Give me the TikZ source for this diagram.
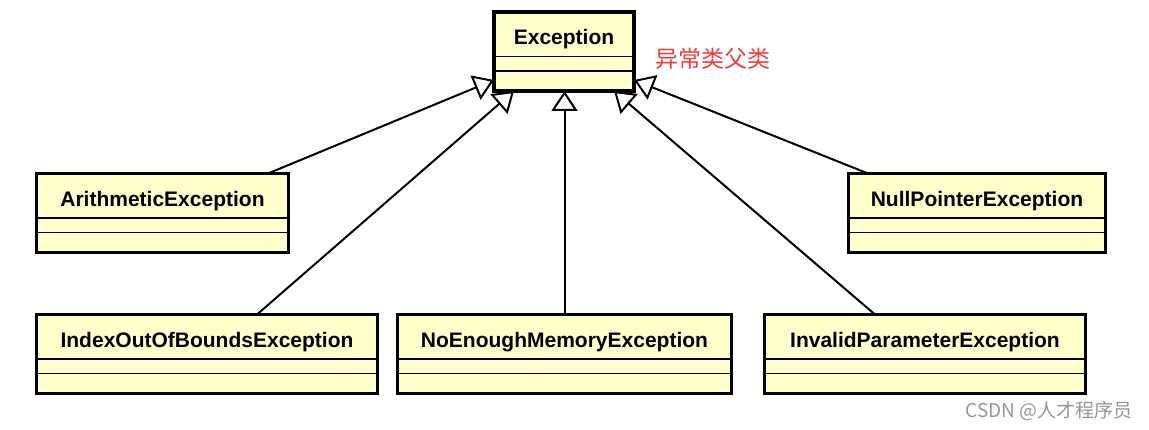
\documentclass[tikz,border=0pt]{standalone}
\usepackage{fontspec}
\usetikzlibrary{arrows.meta}
\newfontfamily\umlfont{Liberation Sans}
\newfontfamily\cjkfont{Noto Sans CJK SC}
\definecolor{classfill}{RGB}{255,255,204}
\definecolor{notered}{RGB}{242,58,58}
\definecolor{markgray}{RGB}{150,150,150}
\tikzstyle{classbox}=[draw=black, fill=classfill, line width=3.5pt, inner sep=0pt, outer sep=0pt, minimum height=79pt, anchor=north west]
\tikzstyle{classname}=[font=\umlfont\bfseries\fontsize{21}{25}\selectfont, inner sep=0pt, anchor=base]
\tikzstyle{divider}=[line width=1.8pt]
\tikzstyle{inherit}=[line width=2pt, -{Triangle[open, length=20pt, width=26pt]}]
\tikzstyle{note}=[font=\cjkfont\fontsize{23}{27}\selectfont, text=notered, inner sep=0pt, anchor=west]
\tikzstyle{watermark}=[font=\cjkfont\fontsize{19}{22}\selectfont, text=markgray, inner sep=0pt, anchor=east]
% one class box: name, x, y (top left), width, class name
\newcommand{\umlclass}[5]{%
  \node[classbox, minimum width=#4pt] (#1) at (#2,#3) {};
  \node[classname] (#1-name) at ([yshift=-33pt]#1.north) {#5};
  \draw[divider] ([yshift=-44.5pt]#1.north west) -- ([yshift=-44.5pt]#1.north east);
  \draw[divider] ([yshift=-59pt]#1.north west) -- ([yshift=-59pt]#1.north east);
}

\begin{document}
\begin{tikzpicture}[x=1pt, y=-1pt]
\useasboundingbox (0,0) rectangle (1149,430);
\umlclass{exc}{494}{12}{140}{Exception}
\umlclass{ari}{36.5}{173.5}{252}{ArithmeticException}
\umlclass{nul}{848.5}{173.5}{257}{NullPointerException}
\umlclass{idx}{36.5}{314.5}{341}{IndexOutOfBoundsException}
\umlclass{nem}{397.5}{314.5}{334}{NoEnoughMemoryException}
\umlclass{inv}{764.5}{314.5}{321}{InvalidParameterException}
% inheritance
\draw[inherit] ([xshift=231.5pt]ari.north west) -- ([yshift=-68pt]exc.north west);
\draw[inherit] ([xshift=220.5pt]idx.north west) -- ([xshift=20pt]exc.south west);
\draw[inherit] (nem.north) -- (nem.north |- exc.south);
\draw[inherit] ([xshift=110.5pt]inv.north west) -- ([xshift=-20pt]exc.south east);
\draw[inherit] ([xshift=19.5pt]nul.north west) -- ([yshift=-68pt]exc.north east);
\node[note] (parent) at ([xshift=21pt, yshift=-7.5pt]exc.east) {异常类父类};
\node[watermark] (mark) at (1133,411) {CSDN @人才程序员};
\end{tikzpicture}
\end{document}
